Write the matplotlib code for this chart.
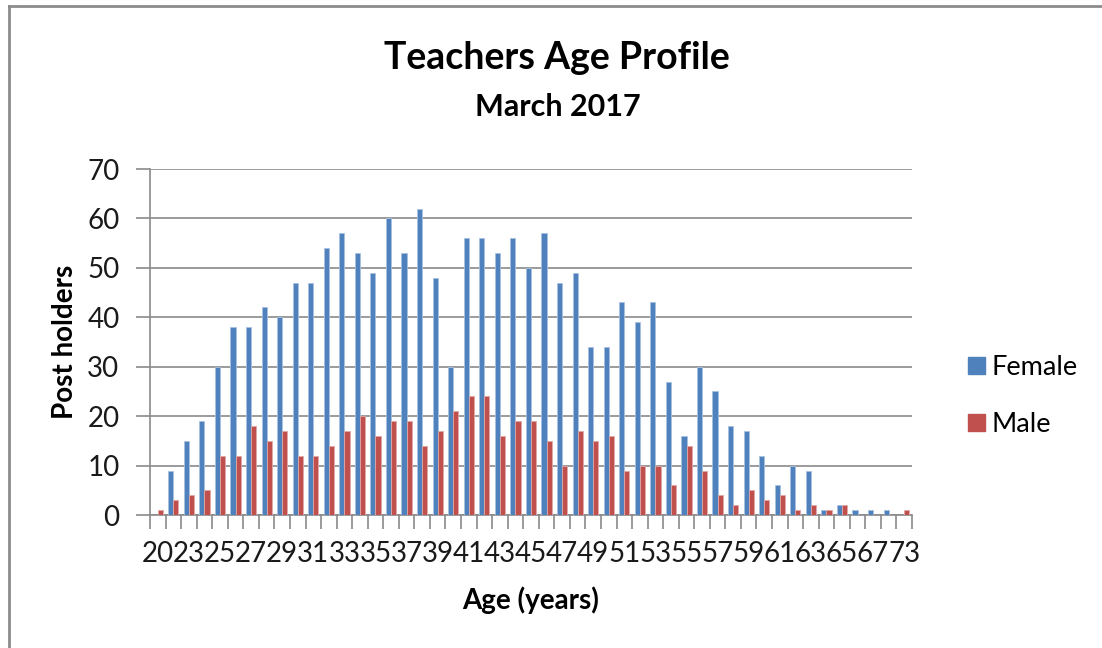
import matplotlib
matplotlib.use("Agg")
import matplotlib.pyplot as plt
from matplotlib import font_manager
from matplotlib.lines import Line2D
from matplotlib.patches import Patch
import numpy as np

# ---- data ----
ages = ["20", "22", "23", "24", "25", "26", "27", "28", "29", "30",
        "31", "32", "33", "34", "35", "36", "37", "38", "39", "40",
        "41", "42", "43", "44", "45", "46", "47", "48", "49", "50",
        "51", "52", "53", "54", "55", "56", "57", "58", "59", "60",
        "61", "62", "63", "64", "65", "66", "67", "70", "73"]
female = [0, 9, 15, 19, 30, 38, 38, 42, 40, 47,
          47, 54, 57, 53, 49, 60, 53, 62, 48, 30,
          56, 56, 53, 56, 50, 57, 47, 49, 34, 34,
          43, 39, 43, 27, 16, 30, 25, 18, 17, 12,
          6, 10, 9, 1, 2, 1, 1, 1, 0]
male = [1, 3, 4, 5, 12, 12, 18, 15, 17, 12,
        12, 14, 17, 20, 16, 19, 19, 14, 17, 21,
        24, 24, 16, 19, 19, 15, 10, 17, 15, 16,
        9, 10, 10, 6, 14, 9, 4, 2, 5, 3,
        4, 1, 2, 1, 2, 0, 0, 0, 1]
series_names = ["Female", "Male"]
title = "Teachers Age Profile"
subtitle = "March 2017"
xlabel = "Age (years)"
ylabel = "Post holders"

# ---- fonts ----
avail = {f.name for f in font_manager.fontManager.ttflist}
font = "Lato" if "Lato" in avail else "DejaVu Sans"

W, H = 1102, 648
fig = plt.figure(figsize=(W / 100, H / 100), dpi=100)
fig.patch.set_facecolor("white")

# outer frame (top and left edges)
fig.add_artist(Line2D([8.5 / W, 8.5 / W], [0, 1 - 5.5 / H], transform=fig.transFigure,
                      color="#8c8c8c", lw=2))
fig.add_artist(Line2D([8.5 / W, 1], [1 - 5.5 / H, 1 - 5.5 / H], transform=fig.transFigure,
                      color="#8c8c8c", lw=2))

ax = fig.add_axes([150 / W, 1 - 515 / H, 762 / W, 346 / H])
x = np.arange(len(ages))
bw = 0.33
blue = "#4F81BD"
red = "#C0504D"
ax.bar(x - bw / 2, female, width=bw, color=blue, edgecolor="#a9c1e0", linewidth=0.6, zorder=3)
ax.bar(x + bw / 2, male, width=bw, color=red, edgecolor="#e0a8a6", linewidth=0.6, zorder=3)

ax.set_xlim(-0.5, len(ages) - 0.5)
ax.set_ylim(0, 70)
ax.set_yticks(np.arange(0, 71, 10))
ax.yaxis.grid(True, color="#8a8a8a", lw=1.2, zorder=0)
ax.set_axisbelow(True)
for s in ["top", "right"]:
    ax.spines[s].set_visible(False)
for s in ["left", "bottom"]:
    ax.spines[s].set_color("#8a8a8a")
    ax.spines[s].set_linewidth(1.2)

# major ticks at category boundaries (no labels), minor ticks for labels every other category
ax.set_xticks(np.arange(-0.5, len(ages), 1.0))
ax.set_xticklabels([])
ax.set_xticks(x[::2], minor=True)
ax.set_xticklabels([ages[i] for i in x[::2]], minor=True)
ax.tick_params(axis="x", which="major", length=10, color="#8a8a8a", width=1.2, direction="out")
ax.tick_params(axis="x", which="minor", length=0, pad=19, labelsize=20, labelcolor="#1a1a1a")
ax.tick_params(axis="y", length=10, color="#8a8a8a", width=1.2, pad=12, labelsize=20,
               labelcolor="#1a1a1a")
for lab in ax.get_xticklabels(minor=True) + ax.get_yticklabels():
    lab.set_family(font)

# titles and labels
fig.text(557 / W, 1 - 58 / H, title, ha="center", va="center", fontsize=27,
         fontweight="bold", family=font, color="black")
fig.text(558 / W, 1 - 107 / H, subtitle, ha="center", va="center", fontsize=22,
         fontweight="bold", family=font, color="black")
fig.text(531 / W, 1 - 600 / H, xlabel, ha="center", va="center", fontsize=20,
         fontweight="bold", family=font, color="black")
fig.text(65 / W, 1 - 342 / H, ylabel, ha="center", va="center", fontsize=20,
         fontweight="bold", family=font, color="black", rotation=90)

handles = [Patch(facecolor=blue, edgecolor=blue), Patch(facecolor=red, edgecolor=red)]
leg = fig.legend(handles, series_names, loc="center left",
                 bbox_to_anchor=(944 / W, 1 - 396 / H), frameon=False,
                 prop={"family": font, "size": 19.5}, handlelength=0.6, handleheight=0.6,
                 handletextpad=0.25, labelspacing=1.2)

fig.savefig("out.png", dpi=100, facecolor="white")
